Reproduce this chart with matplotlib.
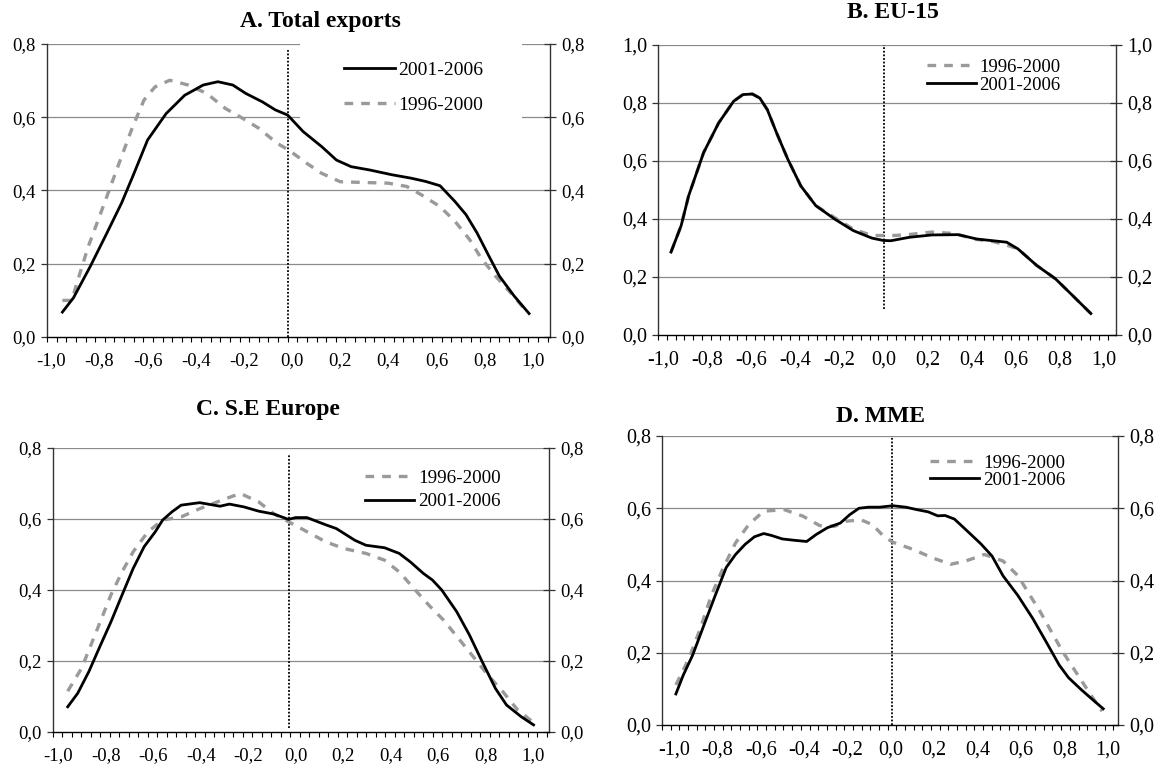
import numpy as np
import matplotlib
matplotlib.use("Agg")
import matplotlib.pyplot as plt
from matplotlib.ticker import FuncFormatter
from matplotlib.patches import Rectangle

plt.rcParams["font.family"] = ["Liberation Serif", "DejaVu Serif"]

# ---------------- Data ----------------
LABEL_OLD = "1996-2000"
LABEL_NEW = "2001-2006"
TITLES = ["A. Total exports", "B. EU-15", "C. S.E Europe", "D. MME"]

# A. Total exports
a_x_new = [-0.954, -0.908, -0.838, -0.769, -0.708, -0.662, -0.600, -0.523, -0.446, -0.369,
           -0.308, -0.246, -0.192, -0.123, -0.069, -0.018, 0.046, 0.123, 0.185, 0.246,
           0.323, 0.415, 0.492, 0.554, 0.615, 0.677, 0.723, 0.769, 0.815, 0.862, 0.923, 0.985]
a_y_new = [0.068, 0.107, 0.193, 0.284, 0.366, 0.438, 0.538, 0.610, 0.660, 0.688,
           0.697, 0.688, 0.665, 0.642, 0.620, 0.606, 0.561, 0.520, 0.483, 0.465,
           0.456, 0.443, 0.434, 0.425, 0.413, 0.370, 0.334, 0.284, 0.225, 0.166, 0.112, 0.064]
a_x_old = [-0.954, -0.915, -0.885, -0.846, -0.800, -0.754, -0.708, -0.662, -0.615, -0.569,
           -0.508, -0.431, -0.354, -0.277, -0.215, -0.138, -0.062, -0.015, 0.062, 0.123,
           0.200, 0.292, 0.400, 0.477, 0.538, 0.615, 0.677, 0.738, 0.785, 0.846, 0.908, 0.980]
a_y_old = [0.100, 0.100, 0.166, 0.248, 0.329, 0.411, 0.493, 0.574, 0.647, 0.683,
           0.701, 0.688, 0.665, 0.624, 0.601, 0.570, 0.529, 0.511, 0.474, 0.447,
           0.424, 0.422, 0.420, 0.411, 0.388, 0.356, 0.316, 0.266, 0.216, 0.166, 0.121, 0.066]

# B. EU-15
b_x_new = [-0.963, -0.917, -0.883, -0.815, -0.747, -0.679, -0.637, -0.594, -0.560, -0.526,
           -0.484, -0.433, -0.374, -0.306, -0.221, -0.136, -0.051, 0.000, 0.034, 0.119,
           0.221, 0.340, 0.424, 0.560, 0.611, 0.696, 0.781, 0.866, 0.942]
b_y_new = [0.286, 0.377, 0.480, 0.629, 0.731, 0.806, 0.829, 0.831, 0.817, 0.777,
           0.697, 0.606, 0.514, 0.446, 0.400, 0.360, 0.334, 0.326, 0.325, 0.337,
           0.345, 0.346, 0.331, 0.320, 0.297, 0.240, 0.194, 0.131, 0.074]
b_x_old = [-0.963, -0.917, -0.883, -0.815, -0.747, -0.679, -0.637, -0.594, -0.560, -0.526,
           -0.484, -0.433, -0.374, -0.306, -0.221, -0.136, -0.051, 0.000, 0.040, 0.100,
           0.220, 0.320, 0.420, 0.500, 0.560, 0.611, 0.696, 0.781, 0.866, 0.942]
b_y_old = [0.286, 0.377, 0.480, 0.629, 0.731, 0.806, 0.829, 0.831, 0.817, 0.777,
           0.697, 0.606, 0.514, 0.446, 0.405, 0.365, 0.343, 0.343, 0.343, 0.345,
           0.355, 0.350, 0.330, 0.322, 0.310, 0.297, 0.240, 0.194, 0.131, 0.074]

# C. S.E Europe
c_x_new = [-0.961, -0.919, -0.872, -0.826, -0.779, -0.732, -0.685, -0.639, -0.592, -0.561,
           -0.522, -0.483, -0.405, -0.319, -0.280, -0.218, -0.156, -0.093, -0.031, 0.000,
           0.047, 0.125, 0.171, 0.249, 0.296, 0.374, 0.436, 0.483, 0.537, 0.576,
           0.615, 0.678, 0.732, 0.779, 0.841, 0.888, 0.950, 1.002]
c_y_new = [0.071, 0.109, 0.170, 0.240, 0.310, 0.386, 0.461, 0.522, 0.564, 0.597,
           0.620, 0.639, 0.646, 0.636, 0.642, 0.634, 0.622, 0.614, 0.599, 0.604,
           0.604, 0.584, 0.573, 0.540, 0.526, 0.519, 0.503, 0.479, 0.447, 0.428,
           0.400, 0.339, 0.273, 0.207, 0.123, 0.076, 0.043, 0.020]
c_x_old = [-0.961, -0.903, -0.841, -0.779, -0.732, -0.685, -0.623, -0.561, -0.483, -0.405,
           -0.312, -0.234, -0.156, -0.093, -0.016, 0.062, 0.125, 0.202, 0.296, 0.374,
           0.436, 0.498, 0.561, 0.623, 0.685, 0.748, 0.810, 0.872, 0.935, 0.997]
c_y_old = [0.115, 0.179, 0.282, 0.386, 0.451, 0.508, 0.564, 0.597, 0.606, 0.629,
           0.653, 0.672, 0.648, 0.615, 0.587, 0.559, 0.536, 0.517, 0.503, 0.484,
           0.451, 0.404, 0.357, 0.315, 0.264, 0.212, 0.160, 0.114, 0.062, 0.029]

# D. MME
d_x_new = [-0.991, -0.957, -0.914, -0.862, -0.810, -0.759, -0.716, -0.672, -0.629, -0.586,
           -0.552, -0.500, -0.440, -0.388, -0.345, -0.293, -0.233, -0.190, -0.147, -0.103,
           -0.052, 0.009, 0.069, 0.121, 0.172, 0.216, 0.250, 0.293, 0.345, 0.414,
           0.466, 0.517, 0.586, 0.655, 0.716, 0.776, 0.819, 0.879, 0.940, 0.979]
d_y_new = [0.086, 0.138, 0.193, 0.276, 0.358, 0.436, 0.472, 0.500, 0.521, 0.530,
           0.525, 0.515, 0.511, 0.508, 0.527, 0.546, 0.559, 0.582, 0.600, 0.603,
           0.603, 0.607, 0.603, 0.596, 0.590, 0.579, 0.580, 0.570, 0.541, 0.502,
           0.468, 0.413, 0.358, 0.294, 0.230, 0.166, 0.131, 0.097, 0.065, 0.045]
d_x_old = [-0.991, -0.931, -0.879, -0.828, -0.776, -0.716, -0.655, -0.586, -0.491, -0.405,
           -0.328, -0.259, -0.207, -0.138, -0.086, -0.034, 0.009, 0.103, 0.190, 0.276,
           0.345, 0.431, 0.517, 0.586, 0.638, 0.690, 0.741, 0.793, 0.862, 0.922, 0.974]
d_y_old = [0.111, 0.184, 0.266, 0.358, 0.431, 0.504, 0.555, 0.592, 0.596, 0.578,
           0.552, 0.550, 0.564, 0.568, 0.555, 0.523, 0.506, 0.486, 0.463, 0.445,
           0.454, 0.472, 0.454, 0.413, 0.362, 0.312, 0.257, 0.202, 0.138, 0.083, 0.038]

# ---------------- Layout (pixels of a 1167x768 canvas) ----------------
W, H = 1167, 768
GREY = "#9a9a9a"

panels = [
    # box = left, right, top, bottom (px); leg = handle x, centre y, spacing, fontsize
    dict(box=(47, 550, 44, 337), xlim=(-1.018, 1.072), ymax=0.8, vx=-0.018, vy=(0.0, 0.784),
         fs=13.5, title_xy=(320, 21), order="new_first",
         leg=(344, 87.5, 0.9, 14), mask=(300, 522, 17, 121),
         x_new=a_x_new, y_new=a_y_new, x_old=a_x_old, y_old=a_y_old),
    dict(box=(658, 1116, 45, 335), xlim=(-1.022, 1.056), ymax=1.0, vx=0.004, vy=(0.091, 1.0),
         fs=14.5, title_xy=(893, 13), order="old_first",
         leg=(927, 76, 0.05, 13.5), mask=None,
         x_new=b_x_new, y_new=b_y_new, x_old=b_x_old, y_old=b_y_old),
    dict(box=(53, 549, 448, 732), xlim=(-1.023, 1.067), ymax=0.8, vx=-0.028, vy=(0.01, 0.784),
         fs=13.5, title_xy=(268, 409), order="old_first",
         leg=(365, 490, 0.3, 13.7), mask=None,
         x_new=c_x_new, y_new=c_y_new, x_old=c_x_old, y_old=c_y_old),
    dict(box=(662, 1118, 436, 725), xlim=(-1.055, 1.047), ymax=0.8, vx=0.003, vy=(0.0, 0.8),
         fs=14.5, title_xy=(881, 416), order="old_first",
         leg=(930, 471.5, 0.0, 13.6), mask=None,
         x_new=d_x_new, y_new=d_y_new, x_old=d_x_old, y_old=d_y_old),
]

comma = FuncFormatter(lambda v, pos: f"{round(v, 1) + 0.0:.1f}".replace(".", ","))

fig = plt.figure(figsize=(W / 100, H / 100), dpi=100)

for p, title in zip(panels, TITLES):
    l, r, t, b = p["box"]
    ax = fig.add_axes([l / W, 1 - b / H, (r - l) / W, (b - t) / H])
    x0, x1 = p["xlim"]
    ymax = p["ymax"]
    ax.set_xlim(x0, x1)
    ax.set_ylim(0, ymax)

    # grid lines (Excel style)
    for yv in np.arange(0.2, ymax + 0.01, 0.2):
        ax.axhline(yv, color="#8a8a8a", lw=0.9, zorder=1)

    # white box behind legend (hides grid line as in the original)
    if p["mask"] is not None:
        ml, mr, mt, mb = p["mask"]
        to_dx = lambda px: x0 + (px - l) / (r - l) * (x1 - x0)
        to_dy = lambda py: ymax * (b - py) / (b - t)
        ax.add_patch(Rectangle((to_dx(ml), to_dy(mb)), to_dx(mr) - to_dx(ml),
                               to_dy(mt) - to_dy(mb), facecolor="white",
                               edgecolor="none", zorder=1.5))

    ax.plot([p["vx"], p["vx"]], p["vy"], color="black", lw=1.3, ls=(0, (1, 1)), zorder=2)

    h_old, = ax.plot(p["x_old"], p["y_old"], color=GREY, lw=2.4,
                     ls=(0, (2.6, 2.4)), zorder=3, label=LABEL_OLD)
    h_new, = ax.plot(p["x_new"], p["y_new"], color="black", lw=2.0,
                     zorder=4, label=LABEL_NEW)

    # axes styling
    ax.spines["top"].set_visible(False)
    for s in ("left", "right"):
        ax.spines[s].set_color("#333333")
        ax.spines[s].set_linewidth(1.0)
    ax.spines["bottom"].set_color("black")
    ax.spines["bottom"].set_linewidth(1.0)

    ax.set_yticks(np.arange(0, ymax + 0.01, 0.2))
    ax.yaxis.set_major_formatter(comma)
    ax.tick_params(axis="y", which="major", left=True, right=True, labelright=True,
                   direction="inout", length=8, width=0.9, pad=4, labelsize=p["fs"],
                   color="#333333")
    for tk in ax.yaxis.get_major_ticks():
        tk.tick1line.set_marker(matplotlib.lines.TICKLEFT)
        tk.tick1line.set_markersize(4.5)

    ax.set_xticks(np.arange(-1.0, 1.01, 0.2))
    ax.xaxis.set_major_formatter(comma)
    ax.set_xticks(np.arange(x0, x1 + 0.001, 0.04), minor=True)
    ax.tick_params(axis="x", which="major", length=0, pad=11, labelsize=p["fs"])
    ax.tick_params(axis="x", which="minor", direction="out", length=3.8, width=0.8,
                   color="black")

    # title
    tx, ty = p["title_xy"]
    fig.text(tx / W, 1 - ty / H, title, ha="center", va="center",
             fontsize=17, fontweight="bold")

    # legend
    lx, ly, spacing, lfs = p["leg"]
    handles = [h_new, h_old] if p["order"] == "new_first" else [h_old, h_new]
    ax.legend(handles=handles, labels=[h.get_label() for h in handles],
              loc="center left", bbox_to_anchor=(lx / W, 1 - ly / H),
              bbox_transform=fig.transFigure, frameon=False, fontsize=lfs,
              handlelength=2.6, handletextpad=0.2, labelspacing=spacing,
              borderpad=0, borderaxespad=0)

fig.savefig("out.png", dpi=100)
